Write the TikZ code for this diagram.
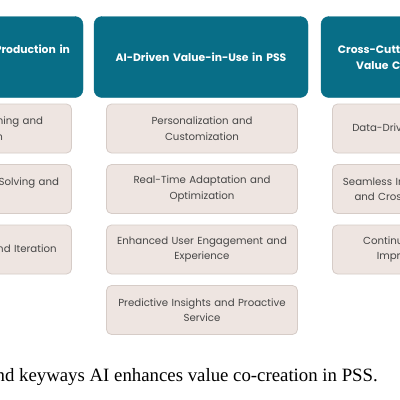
\documentclass[tikz,border=0pt]{standalone}
\usepackage{fontspec}
\setmainfont{Poppins}
\newfontfamily\capfont{Liberation Serif}
\definecolor{headteal}{RGB}{8,110,135}
\definecolor{subfill}{RGB}{238,229,225}
\definecolor{subline}{RGB}{214,204,199}
\definecolor{subtext}{RGB}{70,70,70}
\tikzset{
  headbox/.style={draw=headteal, fill=headteal, rounded corners=8pt, minimum width=214pt, minimum height=81pt,
    text width=212pt, align=center, text=white, font=\fontsize{10.8}{16}\selectfont\bfseries, inner sep=0pt},
  subbox/.style={draw=subline, line width=0.8pt, fill=subfill, rounded corners=5pt, minimum width=191pt, minimum height=49pt,
    text width=189pt, align=center, text=subtext, font=\fontsize{10.2}{15.5}\selectfont, inner sep=0pt},
}
\begin{document}
\begin{tikzpicture}[x=1pt,y=-1pt]
\useasboundingbox (0,0) rectangle (400,400);
\clip (0,0) rectangle (400,400);
\fill[white] (0,0) rectangle (400,400);
% headers
\node[headbox] (h1) at (-24,57) {AI-Based Value Co-Production in\\PSS};
\node[headbox] (h2) at (201,57) {AI-Driven Value-in-Use in PSS};
\node[headbox] (h3) at (428,57) {Cross-Cutting Enablers of AI for\\Value Co-Creation in PSS};
% left column
\node[subbox] (l1) at (-24,128.5) {Generative Designing and\\Innovation};
\node[subbox] (l2) at (-24,189) {Interactive Problem-Solving and\\Ideation};
\node[subbox] (l3) at (-24,249.5) {Rapid Prototyping and Iteration};
% middle column
\node[subbox] (m1) at (202,128.5) {Personalization and\\Customization};
\node[subbox] (m2) at (202,189) {Real-Time Adaptation and\\Optimization};
\node[subbox] (m3) at (202,249.5) {Enhanced User Engagement and\\Experience};
\node[subbox] (m4) at (202,310) {Predictive Insights and Proactive\\Service};
% right column
\node[subbox] (r1) at (428,128.5) {Data-Driven Decision-Making};
\node[subbox] (r2) at (428,189) {Seamless Integration of Products\\and Cross-Platform Services};
\node[subbox] (r3) at (428,249.5) {Continuous Learning and\\Improvement Loops};
% caption
\node[anchor=base east, inner sep=0pt, font=\capfont\fontsize{18.8}{22}\selectfont] (cap) at (378,381)
  {Figure 2. Framework of the three pillars and keyways AI enhances value co-creation in PSS.};
\end{tikzpicture}
\end{document}
